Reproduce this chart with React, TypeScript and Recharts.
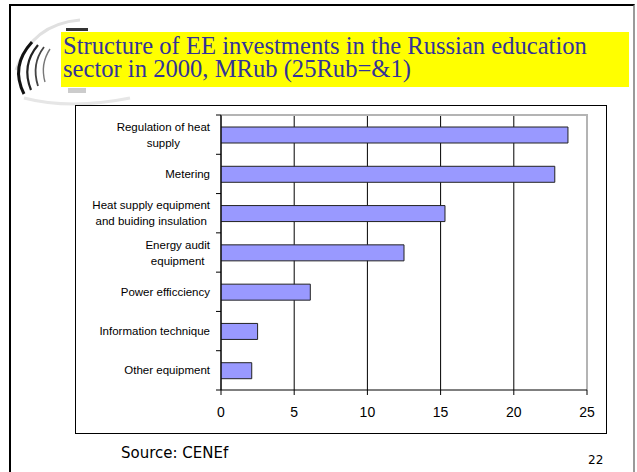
import React from 'react';
import { BarChart, Bar, XAxis, YAxis, CartesianGrid, ReferenceArea, ReferenceLine } from 'recharts';

const categories: string[] = [
  'Regulation of heat\nsupply',
  'Metering',
  'Heat supply equipment\nand buiding insulation',
  'Energy audit\nequipment',
  'Power efficciency',
  'Information technique',
  'Other equipment',
];
const investments: number[] = [23.7, 22.8, 15.3, 12.5, 6.1, 2.5, 2.1];
const xTicks: number[] = [0, 5, 10, 15, 20, 25];

const titleLines: string[] = [
  'Structure of EE investments in the Russian education',
  'sector in 2000, MRub (25Rub=&1)',
];
const sourceText = 'Source: CENEf';
const pageNumber = '22';

const data = categories.map((name, i) => ({ name, value: investments[i] }));

const CHART_W = 530;
const CHART_H = 327;
const MARGIN = { top: 9, right: 19, left: 0, bottom: 0 };
const Y_W = 145;
const X_H = 43;
const PLOT_H = CHART_H - MARGIN.top - MARGIN.bottom - X_H;
const PLOT_W = CHART_W - MARGIN.left - MARGIN.right - Y_W;
const LABEL_FONT = '11.5px "Liberation Sans", Arial, sans-serif';

let ctx: CanvasRenderingContext2D | null = null;
const measure = (s: string): number => {
  if (!ctx) {
    const c = document.createElement('canvas');
    ctx = c.getContext('2d');
  }
  if (!ctx) return s.length * 6;
  ctx.font = LABEL_FONT;
  return ctx.measureText(s).width;
};

const CategoryTick = (props: any) => {
  const { y, payload, index } = props;
  const axisX = MARGIN.left + Y_W;
  const band = PLOT_H / categories.length;
  const lines: string[] = String(payload.value).split('\n');
  const maxW = Math.max(...lines.map(measure));
  const right = axisX - 11;
  const cx = right - maxW / 2;
  const lh = 16;
  const y0 = y - ((lines.length - 1) * lh) / 2;
  return (
    <g>
      <line x1={axisX - 5} x2={axisX} y1={y - band / 2} y2={y - band / 2} stroke="#000" strokeWidth={1} />
      {index === categories.length - 1 && (
        <line x1={axisX - 5} x2={axisX} y1={y + band / 2} y2={y + band / 2} stroke="#000" strokeWidth={1} />
      )}
      <text textAnchor="middle" fill="#000" style={{ font: LABEL_FONT }}>
        {lines.map((l, i) => (
          <tspan key={i} x={cx} y={y0 + i * lh} dy="0.35em">
            {l}
          </tspan>
        ))}
      </text>
    </g>
  );
};

const titleLineStyle: React.CSSProperties = {
  position: 'absolute',
  left: 63,
  height: 22,
  color: '#333399',
  fontFamily: '"Liberation Serif", "Times New Roman", serif',
  fontSize: 24.6,
  lineHeight: '22px',
  whiteSpace: 'nowrap',
};

export default function App() {
  return (
    <div
      style={{
        position: 'absolute',
        left: 0,
        top: 0,
        width: 637,
        height: 472,
        background: '#fff',
        overflow: 'hidden',
      }}
    >
      {/* slide frame */}
      <div
        style={{
          position: 'absolute',
          left: 9,
          top: 4,
          width: 626,
          height: 480,
          borderTop: '2px solid #000',
          borderLeft: '2px solid #000',
          borderRight: '2px solid #9a9a9a',
          boxSizing: 'border-box',
        }}
      />
      {/* logo (graphic only) */}
      <svg style={{ position: 'absolute', left: 0, top: 0 }} width={160} height={110}>
        <path d="M 16 70 Q 32 24 80 20" stroke="#e0e0e0" strokeWidth={3} fill="none" />
        <path d="M 24 98 Q 70 110 130 98" stroke="#e6e6e6" strokeWidth={3} fill="none" />
        <path d="M 32 42 Q 10 66 24 94" stroke="#111" strokeWidth={3} fill="none" />
        <path d="M 38 45 Q 21 65 31 90" stroke="#222" strokeWidth={2.2} fill="none" />
        <path d="M 44 47 Q 31 64 38 86" stroke="#444" strokeWidth={1.8} fill="none" />
        <path d="M 50 49 Q 40 64 45 82" stroke="#777" strokeWidth={1.4} fill="none" />
        <rect x={66} y={28} width={22} height={3} fill="#333" />
        <rect x={68} y={88} width={18} height={5} fill="#ccc" />
      </svg>
      {/* title */}
      <div
        style={{
          position: 'absolute',
          left: 61,
          top: 32,
          width: 568,
          height: 55,
          background: '#ffff00',
        }}
      />
      <div style={{ ...titleLineStyle, top: 34.5 }}>{titleLines[0]}</div>
      <div style={{ ...titleLineStyle, top: 57.5 }}>{titleLines[1]}</div>
      {/* chart box */}
      <div
        style={{
          position: 'absolute',
          left: 75,
          top: 105,
          width: CHART_W + 2,
          height: CHART_H + 2,
          border: '1px solid #000',
          boxSizing: 'border-box',
        }}
      />
      <div style={{ position: 'absolute', left: 76, top: 106 }}>
        <BarChart
          width={CHART_W}
          height={CHART_H}
          data={data}
          layout="vertical"
          margin={MARGIN}
          barCategoryGap={0}
        >
          <ReferenceArea
            x1={0}
            x2={25}
            fill="none"
            stroke="#b4b4b4"
            strokeWidth={2}
            strokeDasharray={`${PLOT_W + PLOT_H} ${PLOT_W + PLOT_H}`}
            ifOverflow="visible"
          />
          <CartesianGrid horizontal={false} vertical={true} stroke="#000" strokeWidth={1} />
          <ReferenceLine x={25} stroke="#b4b4b4" strokeWidth={2} />
          <XAxis
            type="number"
            domain={[0, 25]}
            ticks={xTicks}
            allowDataOverflow
            height={X_H}
            axisLine={{ stroke: '#000' }}
            tickLine={{ stroke: '#000' }}
            tickSize={5}
            tickMargin={12}
            tick={{ fill: '#000', fontSize: 14, fontFamily: '"Liberation Sans", Arial, sans-serif' }}
          />
          <YAxis
            type="category"
            dataKey="name"
            width={Y_W}
            axisLine={{ stroke: '#000' }}
            tickLine={false}
            tickSize={0}
            tickMargin={0}
            interval={0}
            tick={<CategoryTick />}
          />
          <Bar
            dataKey="value"
            fill="#9999ff"
            stroke="#222"
            strokeWidth={1}
            barSize={16}
            isAnimationActive={false}
          />
        </BarChart>
      </div>
      {/* source */}
      <div
        style={{
          position: 'absolute',
          left: 121,
          top: 443,
          fontFamily: '"DejaVu Sans", Verdana, sans-serif',
          fontSize: 15,
          lineHeight: '20px',
          color: '#000',
        }}
      >
        {sourceText}
      </div>
      <div
        style={{
          position: 'absolute',
          left: 588,
          top: 452,
          fontFamily: '"DejaVu Sans", Verdana, sans-serif',
          fontSize: 12,
          lineHeight: '16px',
          color: '#000',
        }}
      >
        {pageNumber}
      </div>
    </div>
  );
}
